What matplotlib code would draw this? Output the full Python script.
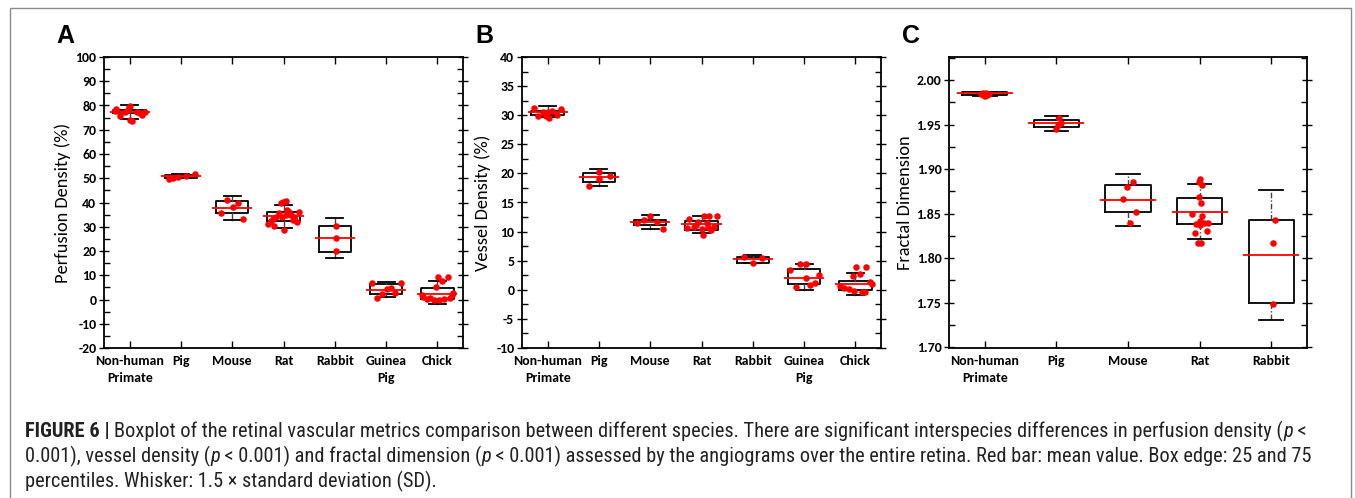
import matplotlib
matplotlib.use("Agg")
import matplotlib.pyplot as plt
from matplotlib.patches import Rectangle
from matplotlib.ticker import MultipleLocator, FormatStrFormatter
from matplotlib import font_manager

W, H = 1355, 498

# ---- data ----
cats_ab = ["Non-human\nPrimate", "Pig", "Mouse", "Rat", "Rabbit", "Guinea\nPig", "Chick"]
cats_c = ["Non-human\nPrimate", "Pig", "Mouse", "Rat", "Rabbit"]

# box stats: 25th pct, 75th pct, lower whisker, upper whisker, mean
a_q1 = [76.8, 50.3, 35.5, 32.5, 19.5, 2.3, 0.2]
a_q3 = [78.1, 51.5, 40.6, 36.1, 30.4, 6.4, 4.9]
a_lo = [74.6, 50.0, 32.6, 29.4, 17.2, 0.9, -1.9]
a_hi = [80.1, 51.8, 42.8, 38.8, 33.5, 7.2, 7.6]
a_mean = [77.4, 51.0, 37.9, 34.3, 25.2, 4.0, 2.4]

b_q1 = [30.1, 18.5, 11.2, 10.2, 4.6, 1.0, 0.0]
b_q3 = [30.8, 20.0, 12.0, 11.8, 5.7, 3.5, 1.5]
b_lo = [29.7, 17.8, 10.4, 9.8, 4.6, 0.0, -0.9]
b_hi = [31.5, 20.8, 12.9, 12.7, 6.0, 4.4, 2.9]
b_mean = [30.6, 19.3, 11.7, 11.3, 5.3, 2.1, 1.0]

c_q1 = [1.983, 1.947, 1.852, 1.838, 1.750]
c_q3 = [1.987, 1.955, 1.882, 1.868, 1.843]
c_lo = [1.982, 1.943, 1.836, 1.822, 1.730]
c_hi = [1.987, 1.960, 1.894, 1.883, 1.876]
c_mean = [1.985, 1.952, 1.865, 1.852, 1.804]

# individual points: horizontal jitter (category units) and value
a_dx = [
    [-0.26, -0.29, -0.18, -0.19, -0.10, -0.04, -0.01, 0.01, 0.04, 0.00, 0.14, 0.21, 0.25, 0.30],
    [-0.23, -0.15, -0.06, 0.10, 0.27],
    [-0.10, 0.12, 0.01, -0.21, 0.21],
    [-0.01, 0.04, -0.05, 0.07, 0.10, -0.09, -0.14, -0.02, 0.14, 0.20, 0.30, 0.27, 0.19,
     -0.30, -0.20, -0.18, 0.00, -0.24, 0.21, 0.05],
    [0.02, 0.02, 0.02],
    [-0.28, 0.29, -0.17, -0.08, 0.01, 0.09, 0.18],
    [0.01, 0.21, 0.10, -0.03, 0.31, 0.29, -0.28, -0.21, -0.14, -0.07, 0.03, 0.12, 0.25, -0.30],
]
a_val = [
    [78.6, 77.7, 75.8, 76.8, 77.4, 78.1, 79.3, 79.9, 73.7, 74.0, 77.4, 76.8, 76.1, 77.4],
    [49.8, 50.2, 50.4, 50.9, 51.75],
    [40.9, 39.9, 38.3, 35.5, 33.3],
    [40.2, 40.5, 39.7, 36.9, 36.0, 35.5, 34.1, 34.1, 34.8, 34.1, 36.2, 32.1, 32.8,
     31.1, 33.3, 30.3, 28.7, 32.5, 33.5, 35.0],
    [30.3, 25.2, 20.0],
    [6.9, 6.9, 0.6, 2.3, 4.2, 4.9, 2.8],
    [9.3, 9.2, 7.6, 5.0, 2.8, 2.0, 1.2, 0.2, 0.7, -0.2, -0.3, 0.1, 0.5, 1.7],
]

b_dx = [
    [-0.27, -0.19, -0.09, -0.04, 0.02, 0.01, 0.09, 0.18, 0.27],
    [0.01, 0.22, 0.01, -0.20],
    [-0.25, -0.12, 0.00, 0.13, 0.25],
    [-0.25, -0.29, -0.14, -0.07, 0.00, 0.02, 0.05, 0.15, 0.10, 0.19, 0.25, 0.31, -0.11, 0.12],
    [-0.18, 0.01, 0.18],
    [-0.27, -0.08, 0.03, -0.16, 0.03, 0.12, 0.21, 0.29],
    [0.01, 0.21, -0.04, 0.10, -0.29, -0.23, -0.13, -0.03, 0.13, 0.28, 0.33, 0.19],
]
b_val = [
    [31.3, 29.9, 30.6, 29.8, 29.6, 30.6, 30.7, 30.1, 31.1],
    [20.3, 19.6, 19.0, 17.9],
    [11.4, 12.0, 12.7, 11.6, 10.4],
    [12.1, 10.6, 10.8, 11.7, 10.4, 9.4, 12.7, 12.7, 11.5, 10.3, 10.8, 12.6, 11.1, 10.8],
    [5.6, 4.6, 5.4],
    [3.4, 4.4, 4.4, 0.5, 2.1, 0.9, 1.2, 2.5],
    [4.0, 4.0, 2.4, 2.8, 0.7, 0.3, 0.1, -0.2, -0.3, 1.4, 1.0, -0.3],
]

c_dx = [
    [-0.06, -0.03, 0.00, 0.03, 0.06, -0.02, 0.02, 0.00],
    [0.03, 0.07, 0.02, 0.00],
    [-0.02, 0.07, -0.07, 0.11, 0.03],
    [0.01, -0.01, 0.03, -0.01, 0.02, -0.10, 0.04, 0.00, -0.05, 0.06, 0.12, -0.06, 0.10,
     -0.02, 0.02, 0.00],
    [0.06, 0.02, 0.03],
]
c_val = [
    [1.984, 1.983, 1.982, 1.983, 1.984, 1.985, 1.985, 1.983],
    [1.958, 1.952, 1.9495, 1.945],
    [1.880, 1.885, 1.866, 1.852, 1.840],
    [1.889, 1.886, 1.882, 1.869, 1.862, 1.850, 1.847, 1.842, 1.838, 1.840, 1.839, 1.828, 1.831,
     1.817, 1.817, 1.837],
    [1.843, 1.817, 1.749],
]


def pick(names):
    for n in names:
        try:
            font_manager.findfont(n, fallback_to_default=False)
            return n
        except Exception:
            pass
    return "DejaVu Sans"


tick_font = pick(["Carlito", "Lato", "Open Sans"])
cap_font = pick(["Liberation Sans Narrow", "Roboto Condensed", "Barlow Semi Condensed",
                 "Archivo Narrow", "Liberation Sans"])
letter_font = pick(["Liberation Sans", "DejaVu Sans"])

fig = plt.figure(figsize=(W / 100, H / 100), dpi=100)

# outer frame
fig.patches.append(Rectangle((10 / W, -0.05), 1341 / W, 1.05 - 8 / H, transform=fig.transFigure,
                             fill=False, edgecolor="#8a8a8a", lw=1.0))


def axes_px(l, t, r, b):
    return fig.add_axes([l / W, 1 - b / H, (r - l) / W, (b - t) / H])


def panel(ax, cats, q1, q3, lo, hi, mean, dx, val, ylim, major, minor, ylabel, fmt, dotted, lab_x):
    n = len(cats)
    pos = list(range(1, n + 1))
    stats = [dict(q1=q1[i], q3=q3[i], whislo=lo[i], whishi=hi[i], med=mean[i], label="")
             for i in range(n)]
    ax.bxp(stats, positions=pos, widths=0.63, showfliers=False, manage_ticks=False,
           boxprops=dict(color="black", lw=1.3),
           whiskerprops=dict(color="#444444", lw=1.0, ls=(0, (4, 1.5, 1, 1.5)) if dotted else "-"),
           capprops=dict(color="black", lw=1.3), capwidths=0.33,
           medianprops=dict(lw=0))
    ax.hlines(mean, [p - 0.39 for p in pos], [p + 0.39 for p in pos], color="red", lw=1.3, zorder=3)
    for i in range(n):
        ax.scatter([pos[i] + d for d in dx[i]], val[i], s=22, color="red", lw=0, zorder=4)
    ax.set_xlim(0.5, n + 0.5)
    ax.set_ylim(*ylim)
    ax.set_xticks(pos)
    ax.set_xticklabels(cats, fontfamily=tick_font, fontweight="bold", fontsize=10,
                       linespacing=1.5, va="top")
    ax.yaxis.set_major_locator(MultipleLocator(major))
    ax.yaxis.set_minor_locator(MultipleLocator(minor))
    ax.yaxis.set_major_formatter(FormatStrFormatter(fmt))
    for lab in ax.get_yticklabels():
        lab.set_fontfamily(tick_font)
        lab.set_fontweight("bold")
        lab.set_fontsize(10)
    ax.tick_params(axis="y", which="major", direction="inout", length=7, width=1.0, right=True, pad=2)
    ax.tick_params(axis="y", which="minor", direction="in", length=4, width=1.0, right=True)
    ax.tick_params(axis="x", which="major", direction="in", length=5, width=1.0, top=True, pad=5)
    for s in ax.spines.values():
        s.set_linewidth(1.3)
    ax.set_ylabel(ylabel, fontfamily=tick_font, fontsize=13.2)
    ax.yaxis.set_label_coords(lab_x, 0.5)


ax_a = axes_px(104, 57, 463, 348)
panel(ax_a, cats_ab, a_q1, a_q3, a_lo, a_hi, a_mean, a_dx, a_val, (-20, 100), 10, 5,
      "Perfusion Density (%)", "%d", False, -0.092)
ax_b = axes_px(522, 57, 881, 348)
panel(ax_b, cats_ab, b_q1, b_q3, b_lo, b_hi, b_mean, b_dx, b_val, (-10, 40), 5, 2.5,
      "Vessel Density (%)", "%d", False, -0.086)
ax_c = axes_px(949, 57, 1307, 348)
panel(ax_c, cats_c, c_q1, c_q3, c_lo, c_hi, c_mean, c_dx, c_val, (1.699, 2.026), 0.05, 0.025,
      "Fractal Dimension", "%.2f", True, -0.1)

for letter, x in [("A", 56), ("B", 475), ("C", 902)]:
    fig.text(x / W, 1 - 36 / H, letter, fontfamily=letter_font, fontweight="bold",
             fontsize=18, va="center", ha="left")

# caption, drawn segment by segment
renderer = fig.canvas.get_renderer()
cap_lines = [
    [("FIGURE 6 | ", "bold", "normal"),
     ("Boxplot of the retinal vascular metrics comparison between different species. There are "
      "significant interspecies differences in perfusion density (", "normal", "normal"),
     ("p", "normal", "italic"), (" <", "normal", "normal")],
    [("0.001), vessel density (", "normal", "normal"), ("p", "normal", "italic"),
     (" < 0.001) and fractal dimension (", "normal", "normal"), ("p", "normal", "italic"),
     (" < 0.001) assessed by the angiograms over the entire retina. Red bar: mean value. "
      "Box edge: 25 and 75", "normal", "normal")],
    [("percentiles. Whisker: 1.5 \u00d7 standard deviation (SD).", "normal", "normal")],
]
cap_y = [431, 456, 481]

# scale caption font so the first line spans the same width as in the figure
probe = fig.text(0, 0, "".join(s[0] for s in cap_lines[0]), fontfamily=cap_font, fontsize=10)
pw = probe.get_window_extent(renderer).width
probe.remove()
cap_size = 10 * (1290 - 25) / pw

for segs, y in zip(cap_lines, cap_y):
    x = 25
    for txt, wt, st in segs:
        t = fig.text(x / W, 1 - y / H, txt, fontfamily=cap_font, fontsize=cap_size,
                     fontweight=wt, fontstyle=st, va="center", ha="left", color="#222222")
        x += t.get_window_extent(renderer).width

fig.savefig("out.png", dpi=100)
